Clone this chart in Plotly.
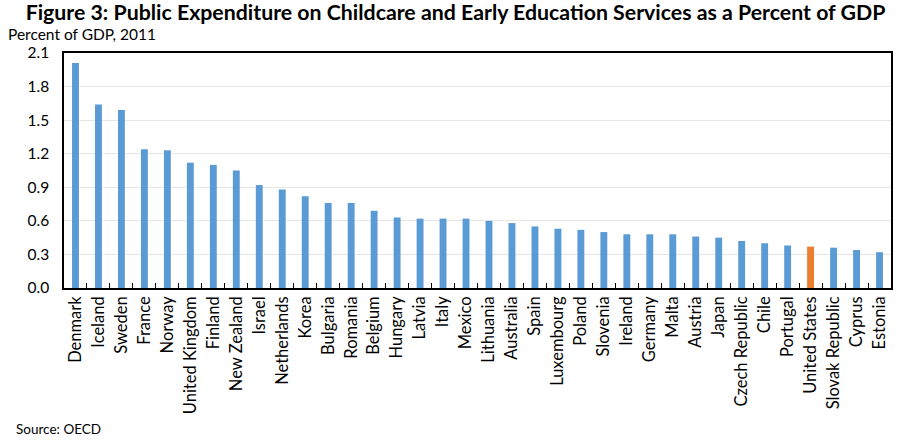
import plotly.graph_objects as go

countries = ["Denmark", "Iceland", "Sweden", "France", "Norway", "United Kingdom", "Finland",
             "New Zealand", "Israel", "Netherlands", "Korea", "Bulgaria", "Romania", "Belgium",
             "Hungary", "Latvia", "Italy", "Mexico", "Lithuania", "Australia", "Spain",
             "Luxembourg", "Poland", "Slovenia", "Ireland", "Germany", "Malta", "Austria",
             "Japan", "Czech Republic", "Chile", "Portugal", "United States", "Slovak Republic",
             "Cyprus", "Estonia"]
values = [2.01, 1.64, 1.59, 1.24, 1.23, 1.12, 1.10, 1.05, 0.92, 0.88, 0.82, 0.76, 0.76, 0.69,
          0.63, 0.62, 0.62, 0.62, 0.60, 0.58, 0.55, 0.53, 0.52, 0.50, 0.48, 0.48, 0.48, 0.46,
          0.45, 0.42, 0.40, 0.38, 0.37, 0.36, 0.34, 0.32]
highlight = "United States"
y_ticks = [0.0, 0.3, 0.6, 0.9, 1.2, 1.5, 1.8, 2.1]

colors = ["#ED7D31" if c == highlight else "#5B9BD5" for c in countries]

font = "Lato, 'Open Sans', sans-serif"

fig = go.Figure(go.Bar(x=countries, y=values, marker_color=colors, marker_line_width=0))

fig.update_layout(
    width=911, height=445,
    margin=dict(l=64, r=20, t=53, b=157),
    paper_bgcolor="white", plot_bgcolor="white",
    bargap=0.7,
    showlegend=False,
    font=dict(family=font, color="black"),
    title=dict(text="<b>Figure 3: Public Expenditure on Childcare and Early Education Services as a Percent of GDP</b>",
               x=0.5, xanchor="center", xref="container", y=1 - 13 / 445, yanchor="middle",
               font=dict(size=21.3, color="black")),
)
fig.update_xaxes(
    showline=True, linecolor="black", linewidth=1.5, mirror=True,
    ticks="inside", tickson="boundaries", ticklen=5, tickcolor="black",
    tickangle=-90, tickfont=dict(size=16.5), showgrid=False,
)
fig.update_yaxes(
    range=[0, 2.1], tickvals=y_ticks, tickformat=".1f",
    showline=True, linecolor="black", linewidth=1.5, mirror=True,
    ticks="", showgrid=True, gridcolor="#e6e6e6", gridwidth=1,
    tickfont=dict(size=15.5), ticklabelstandoff=10, zeroline=False,
)
fig.add_annotation(text="Percent of GDP, 2011", xref="paper", yref="paper", x=-58/827, y=1 + 19/235,
                   xanchor="left", yanchor="middle", showarrow=False, font=dict(size=15.5))
fig.add_annotation(text="Source: OECD", xref="paper", yref="paper", x=-50/827, y=-0.6,
                   xanchor="left", yanchor="middle", showarrow=False, font=dict(size=13.5))

fig.write_html("out.html")
